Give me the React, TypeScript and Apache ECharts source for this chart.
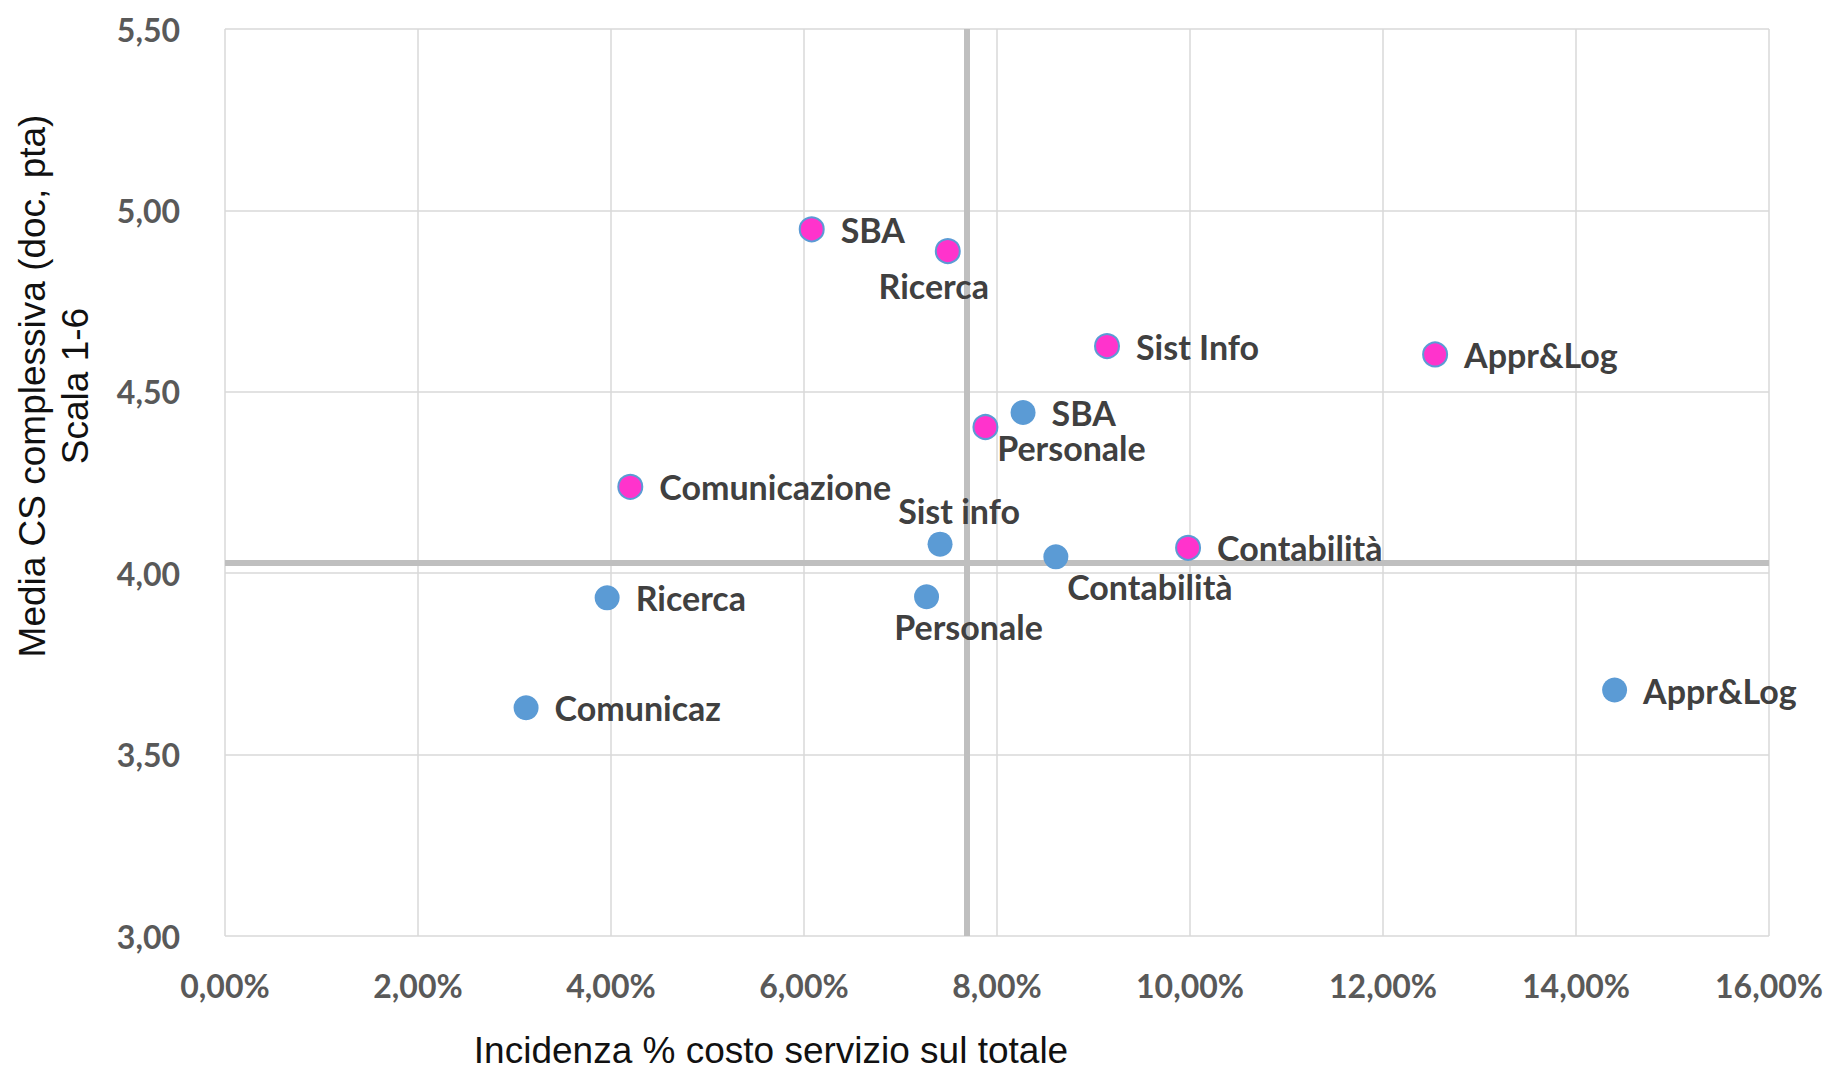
import React, { useEffect, useRef } from "react";
import * as echarts from "echarts";

// Categories / names
const pinkNames = ["SBA", "Ricerca", "Sist Info", "Appr&Log", "Personale", "Comunicazione", "Contabilità"];
const pinkX = [6.08, 7.49, 9.14, 12.54, 7.88, 4.2, 9.98]; // % incidence
const pinkY = [4.948, 4.888, 4.626, 4.603, 4.403, 4.238, 4.07];

const blueNames = ["SBA", "Sist info", "Contabilità", "Ricerca", "Personale", "Comunicaz", "Appr&Log"];
const blueX = [8.27, 7.41, 8.61, 3.96, 7.27, 3.12, 14.4];
const blueY = [4.443, 4.08, 4.045, 3.932, 3.935, 3.629, 3.678];

// Reference (quadrant) lines
const refX = 7.69;
const refY = 4.03;

// Axis ticks
const xTicks = [0, 2, 4, 6, 8, 10, 12, 14, 16];
const yTicks = [3.0, 3.5, 4.0, 4.5, 5.0, 5.5];

const xTitle = "Incidenza % costo servizio sul totale";
const yTitleLines = ["Media CS complessiva (doc, pta)", "Scala 1-6"];

// Label placement overrides (style, not data)
const pinkLabelOffsets: Record<string, [number, number]> = {
  Ricerca: [-14, 34],
  Personale: [86, 21],
};
const blueLabelOffsets: Record<string, [number, number]> = {
  "Sist info": [19, -34],
  Contabilità: [94, 30],
  Personale: [42, 30],
};

const LABEL_FONT = "Lato, 'Open Sans', sans-serif";
const labelBase = {
  show: true,
  fontFamily: LABEL_FONT,
  fontWeight: "bold" as const,
  fontSize: 34,
  color: "#404040",
};

function buildData(names: string[], xs: number[], ys: number[], offsets: Record<string, [number, number]>) {
  return names.map((n, i) => {
    const off = offsets[n];
    const label = off
      ? { ...labelBase, position: "inside", offset: off, align: "center", verticalAlign: "middle", formatter: "{b}" }
      : { ...labelBase, position: "right", distance: 16, formatter: "{b}" };
    return { name: n, value: [xs[i], ys[i]], label };
  });
}

export default function App() {
  const ref = useRef<HTMLDivElement>(null);
  useEffect(() => {
    document.body.style.margin = "0";
    if (!ref.current) return;
    const chart = echarts.init(ref.current, undefined, { renderer: "svg" });
    const fmtX = (v: number) => `${v.toFixed(2).replace(".", ",")}%`;
    const fmtY = (v: number) => v.toFixed(2).replace(".", ",");
    chart.setOption({
      animation: false,
      backgroundColor: "#ffffff",
      grid: { left: 225, top: 29, width: 1544, height: 907, containLabel: false },
      xAxis: {
        type: "value",
        min: xTicks[0],
        max: xTicks[xTicks.length - 1],
        interval: xTicks[1] - xTicks[0],
        axisLine: { show: false },
        axisTick: { show: false },
        splitLine: { show: true, lineStyle: { color: "#D9D9D9", width: 1.5 } },
        axisLabel: {
          formatter: fmtX,
          fontFamily: LABEL_FONT,
          fontWeight: "bold",
          fontSize: 32,
          color: "#595959",
          margin: 33,
        },
      },
      yAxis: {
        type: "value",
        min: yTicks[0],
        max: yTicks[yTicks.length - 1],
        interval: yTicks[1] - yTicks[0],
        axisLine: { show: false },
        axisTick: { show: false },
        splitLine: { show: true, lineStyle: { color: "#D9D9D9", width: 1.5 } },
        axisLabel: {
          formatter: fmtY,
          fontFamily: LABEL_FONT,
          fontWeight: "bold",
          fontSize: 32,
          color: "#595959",
          margin: 45,
        },
      },
      graphic: [
        {
          type: "text",
          x: 771,
          y: 1050,
          style: {
            text: xTitle,
            fontFamily: "'Liberation Sans', Arial, sans-serif",
            fontSize: 37,
            fill: "#111111",
            align: "center",
            verticalAlign: "middle",
          },
        },
        {
          type: "text",
          x: 54,
          y: 386,
          rotation: Math.PI / 2,
          style: {
            text: yTitleLines.join("\n"),
            fontFamily: "'Liberation Sans', Arial, sans-serif",
            fontSize: 37,
            lineHeight: 43,
            fill: "#111111",
            align: "center",
            verticalAlign: "middle",
          },
        },
      ],
      series: [
        {
          type: "scatter",
          name: "ref",
          data: [],
          silent: true,
          z: 1,
          markLine: {
            z: 1,
            silent: true,
            symbol: "none",
            label: { show: false },
            lineStyle: { color: "#BFBFBF", width: 6, type: "solid" },
            data: [{ xAxis: refX }, { yAxis: refY }],
          },
        },
        {
          type: "scatter",
          name: "blue",
          symbolSize: 25,
          z: 3,
          itemStyle: { color: "#5B9BD5", opacity: 1 },
          data: buildData(blueNames, blueX, blueY, blueLabelOffsets),
        },
        {
          type: "scatter",
          name: "pink",
          symbolSize: 24,
          z: 4,
          itemStyle: { color: "#FF33CC", borderColor: "#5B9BD5", borderWidth: 2, opacity: 1 },
          data: buildData(pinkNames, pinkX, pinkY, pinkLabelOffsets),
        },
      ],
    });
    return () => chart.dispose();
  }, []);
  return <div ref={ref} style={{ width: 1829, height: 1071 }} />;
}
